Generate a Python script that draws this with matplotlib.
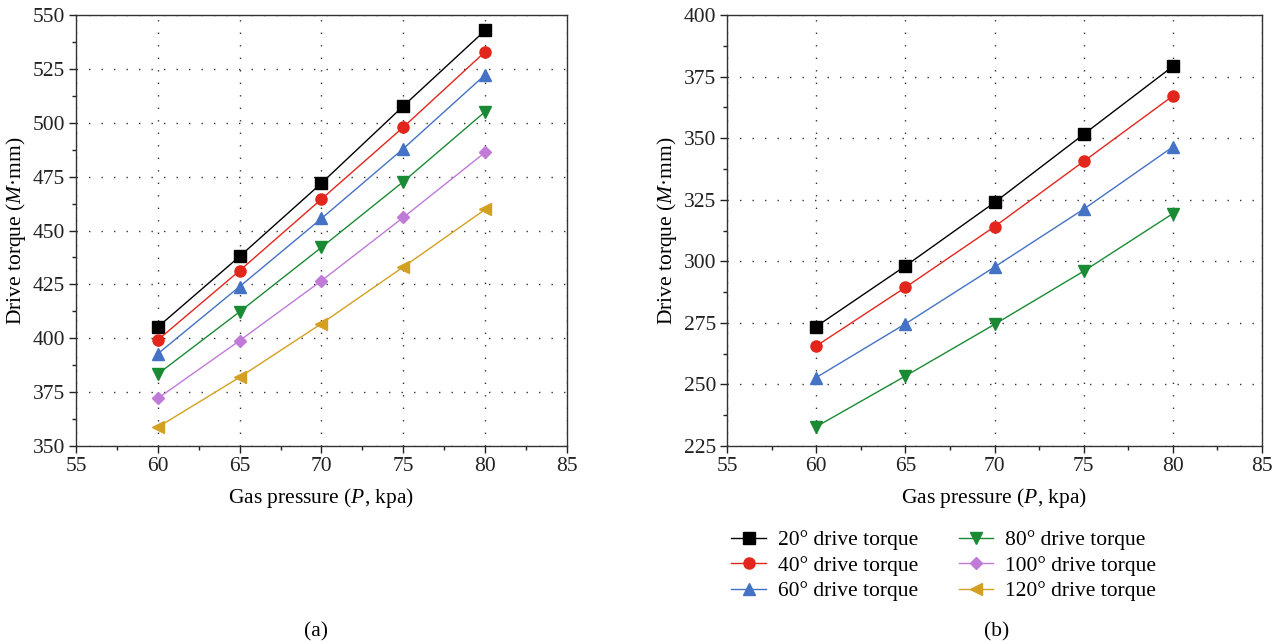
import matplotlib
matplotlib.use('Agg')
import matplotlib.pyplot as plt
from matplotlib.ticker import MultipleLocator

plt.rcParams['font.family'] = 'Liberation Serif'
plt.rcParams['mathtext.fontset'] = 'custom'
plt.rcParams['mathtext.rm'] = 'Liberation Serif'
plt.rcParams['mathtext.it'] = 'Liberation Serif:italic'

# data
pressure = [60, 65, 70, 75, 80]

labels = ['20° drive torque', '40° drive torque', '60° drive torque',
          '80° drive torque', '100° drive torque', '120° drive torque']
colors = ['#000000', '#e3261c', '#4472c4', '#1a8a35', '#c07ad8', '#d4a020']
markers = ['s', 'o', '^', 'v', 'D', '<']

torque_a_20 = [405.2, 438.0, 472.0, 507.8, 542.9]
torque_a_40 = [399.2, 431.4, 464.6, 498.0, 533.0]
torque_a_60 = [392.8, 424.0, 455.6, 488.0, 522.3]
torque_a_80 = [383.4, 412.3, 442.2, 472.7, 505.2]
torque_a_100 = [372.1, 398.9, 426.7, 456.1, 486.3]
torque_a_120 = [358.7, 381.9, 406.8, 433.1, 459.8]

torque_b_20 = [273.5, 298.1, 323.9, 351.6, 379.2]
torque_b_40 = [265.6, 289.4, 314.1, 340.6, 367.2]
torque_b_60 = [252.8, 274.6, 297.7, 321.2, 346.5]
torque_b_80 = [232.8, 253.4, 274.4, 296.0, 319.4]

series_a = [torque_a_20, torque_a_40, torque_a_60, torque_a_80, torque_a_100, torque_a_120]
series_b = [torque_b_20, torque_b_40, torque_b_60, torque_b_80]

fs = 15.5

fig = plt.figure(figsize=(12.77, 6.44), dpi=100)
ax1 = fig.add_axes([0.0595, 0.3075, 0.3845, 0.669])
ax2 = fig.add_axes([0.5693, 0.3075, 0.419, 0.669])

lines = []
for ys, c, m, lab in zip(series_a, colors, markers, labels):
    ms = 6.5 if m == 'D' else 8
    ln, = ax1.plot(pressure, ys, color=c, marker=m, markersize=ms, linewidth=1.0, label=lab)
    lines.append(ln)
for ys, c, m, lab in zip(series_b, colors, markers, labels):
    ms = 6.5 if m == 'D' else 8
    ax2.plot(pressure, ys, color=c, marker=m, markersize=ms, linewidth=1.0, label=lab)


def style(ax, ylo, yhi):
    ax.set_xlim(55, 85)
    ax.set_ylim(ylo, yhi)
    ax.xaxis.set_major_locator(MultipleLocator(5))
    ax.xaxis.set_minor_locator(MultipleLocator(2.5))
    ax.yaxis.set_major_locator(MultipleLocator(25))
    ax.yaxis.set_minor_locator(MultipleLocator(12.5))
    ax.tick_params(which='both', direction='out', labelsize=fs, colors='#222222', pad=3)
    ax.tick_params(which='major', length=5, width=1)
    ax.tick_params(which='minor', length=3, width=1)
    ax.grid(True, which='major', linestyle=(0, (1, 8)), color='#333333', linewidth=1.0)
    for s in ax.spines.values():
        s.set_linewidth(1.0)
        s.set_color('#333333')
    ax.set_xlabel('Gas pressure ($P$, kpa)', fontsize=fs, labelpad=7)
    ax.set_ylabel('Drive torque ($M$·mm)', fontsize=fs, labelpad=3)


style(ax1, 350, 550)
style(ax2, 225, 400)

fig.legend(handles=lines, loc='upper left', bbox_to_anchor=(0.566, 0.19), ncol=2,
           frameon=False, fontsize=fs, handlelength=1.6, columnspacing=1.9,
           labelspacing=0.25, handletextpad=0.55, borderaxespad=0)

fig.text(0.2475, 0.012, '(a)', ha='center', fontsize=fs)
fig.text(0.7807, 0.012, '(b)', ha='center', fontsize=fs)

fig.savefig('out.png', dpi=100)
